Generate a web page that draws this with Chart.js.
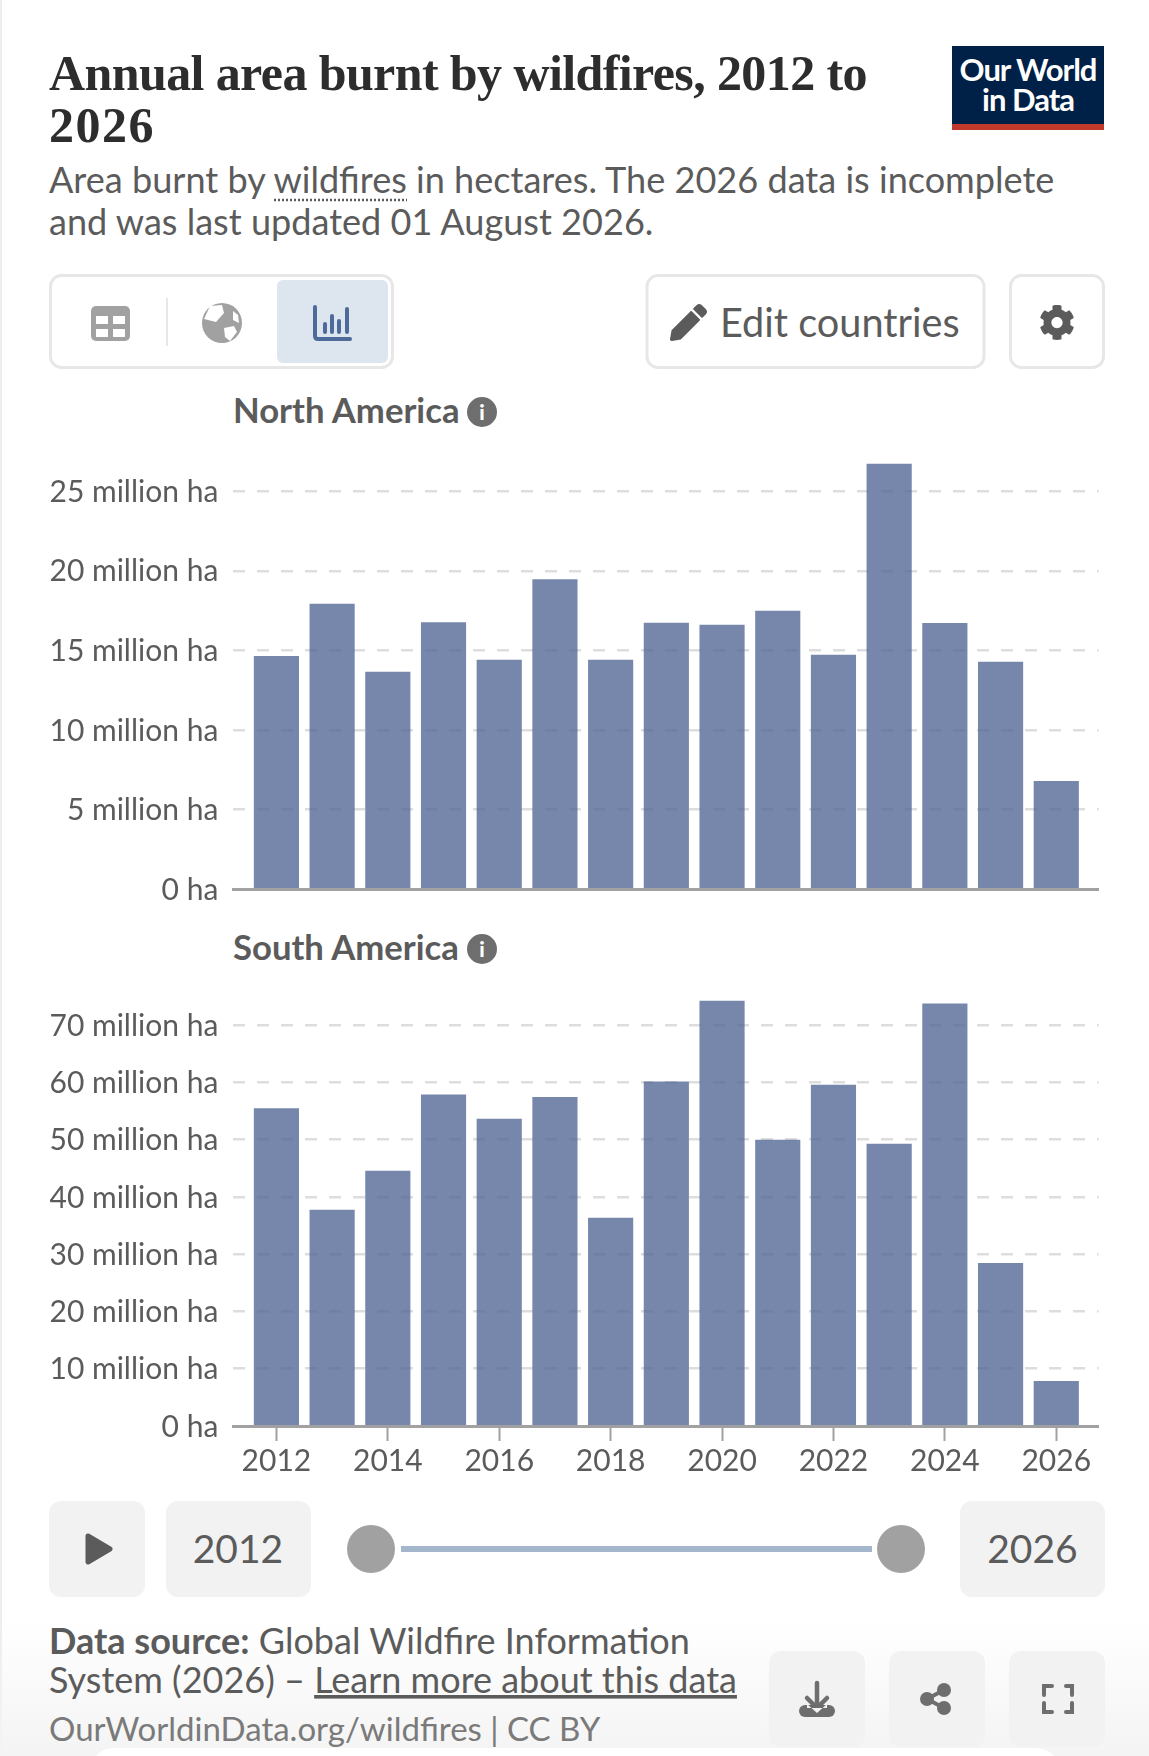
<!DOCTYPE html>
<html>
<head>
<meta charset="utf-8">
<title>Annual area burnt by wildfires</title>
<script src="https://cdn.jsdelivr.net/npm/chart.js@4"></script>
<style>
  html, body { margin: 0; padding: 0; background: #fff; }
  #page { position: relative; width: 1149px; height: 1756px; overflow: hidden; border-left: 0; }
  #chrome { position: absolute; left: 0; top: 0; }
  canvas { position: absolute; left: 0; }
  #northChart { top: 440px; }
  #southChart { top: 985px; }
  text { font-family: Lato, sans-serif; fill: #5b5b5b; }
  .title { font-family: "Liberation Serif", serif; font-weight: 700; font-size: 50px; fill: #2d2d2d; letter-spacing: -0.6px; }
  .sub { font-size: 36.1px; }
  .facet { font-size: 34.7px; font-weight: 700; }
  .btn { font-size: 39.7px; }
  .foot { font-size: 36px; }
  .url { font-size: 33px; fill: #7a7a7a; }
  .logo { font-size: 31px; font-weight: 700; fill: #fff; letter-spacing: -1px; }
  .box { fill: #fff; stroke: #e7e7e7; stroke-width: 3; }
  .grey { fill: #f2f2f2; }
</style>
</head>
<body>
<div id="page">
  <svg id="chrome" width="1149" height="1756" xmlns="http://www.w3.org/2000/svg">
    <defs>
      <linearGradient id="fade" x1="0" y1="0" x2="0" y2="1">
        <stop offset="0" stop-color="#f4f4f4" stop-opacity="0"/>
        <stop offset="1" stop-color="#f4f4f4"/>
      </linearGradient>
    </defs>
    <rect x="0" y="0" width="2" height="1756" fill="#eeeeee"/>
    <rect x="0" y="1620" width="1149" height="136" fill="url(#fade)"/>
    <rect x="90" y="1748" width="970" height="60" rx="24" fill="#fff"/>

    <!-- header -->
    <text class="title" x="49" y="90" id="title1">Annual area burnt by wildfires, 2012 to</text>
    <text class="title" x="49" y="142" style="letter-spacing:1.5px">2026</text>
    <rect x="952" y="46" width="152" height="84" fill="#002147"/>
    <rect x="952" y="124" width="152" height="6" fill="#c0392b"/>
    <text class="logo" x="1028" y="81" text-anchor="middle">Our World</text>
    <text class="logo" x="1028" y="111" text-anchor="middle">in Data</text>
    <text class="sub" x="49" y="193">Area burnt by wildfires in hectares. The 2026 data is incomplete</text>
    <text class="sub" x="49" y="235">and was last updated 01 August 2026.</text>
    <line x1="274" y1="200" x2="407" y2="200" stroke="#5b5b5b" stroke-width="2.500" stroke-dasharray="2 2"/>

    <!-- tabs -->
    <rect class="box" x="50.5" y="275.5" width="342" height="92" rx="11"/>
    <rect x="277" y="280" width="111" height="83" rx="6" fill="#dde5ef"/>
    <line x1="167" y1="298" x2="167" y2="346" stroke="#e7e7e7" stroke-width="2"/>
    <rect x="91" y="306" width="39" height="35" rx="5" fill="#a1a1a1"/>
    <g fill="#fff">
      <rect x="96" y="316" width="12" height="8"/><rect x="113" y="316" width="12" height="8"/>
      <rect x="96" y="329" width="12" height="8"/><rect x="113" y="329" width="12" height="8"/>
    </g>
    <circle cx="222" cy="323" r="20" fill="#a1a1a1"/>
    <path d="M210 306 l12 -1 l2 8 l-8 9 l-12 -3 z M224 328 l10 -2 l3 6 l-7 9 l-5 -4 z M233 311 l5 4 l1 8 l-6 -3 z" fill="#fff"/>
    <g fill="none" stroke="#4e6a9a" stroke-width="4" stroke-linecap="round">
      <path d="M315 307 V336 Q315 339 318 339 H350"/>
      <path d="M325 324 V332 M332 316 V332 M339 321 V332 M347 309 V332"/>
    </g>
    <rect class="box" x="647" y="275.5" width="337" height="92" rx="11"/>
    <svg x="670" y="304" width="37" height="37" viewBox="0 0 512 512">
      <path fill="#5b5b5b" d="M497.9 142.1l-46.1 46.1c-4.7 4.7-12.3 4.7-17 0l-111-111c-4.7-4.7-4.7-12.3 0-17l46.1-46.1c18.7-18.7 49.1-18.7 67.9 0l60.1 60.1c18.8 18.7 18.8 49.1 0 67.9zM284.2 99.8L21.6 362.4.4 483.9c-2.9 16.4 11.4 30.6 27.8 27.8l121.5-21.3 262.6-262.6c4.7-4.7 4.7-12.3 0-17l-111-111c-4.8-4.7-12.4-4.7-17.1 0z"/>
    </svg>
    <text class="btn" x="720" y="337">Edit countries</text>
    <rect class="box" x="1010.5" y="275.5" width="93" height="92" rx="11"/>
    <svg x="1039" y="304" width="36" height="37" viewBox="0 0 512 512">
      <path fill="#5b5b5b" d="M487.4 315.7l-42.6-24.6c4.3-23.2 4.3-47 0-70.2l42.6-24.6c4.9-2.8 7.1-8.6 5.5-14-11.1-35.6-30-67.8-54.7-94.6-3.8-4.1-10-5.1-14.8-2.3L380.8 110c-17.9-15.4-38.5-27.3-60.8-35.1V25.8c0-5.6-3.9-10.5-9.4-11.7-36.7-8.2-74.3-7.8-109.2 0-5.5 1.2-9.4 6.1-9.4 11.7V75c-22.2 7.9-42.8 19.8-60.8 35.1L88.7 85.5c-4.9-2.8-11-1.9-14.8 2.3-24.7 26.7-43.6 58.9-54.7 94.6-1.7 5.4.6 11.2 5.5 14L67.3 221c-4.3 23.2-4.3 47 0 70.2l-42.6 24.6c-4.9 2.8-7.1 8.6-5.5 14 11.1 35.6 30 67.8 54.7 94.6 3.8 4.1 10 5.1 14.8 2.3l42.6-24.6c17.9 15.4 38.5 27.3 60.8 35.1v49.2c0 5.6 3.9 10.5 9.4 11.7 36.7 8.2 74.3 7.8 109.2 0 5.5-1.2 9.4-6.1 9.4-11.7v-49.2c22.2-7.9 42.8-19.8 60.8-35.1l42.6 24.6c4.9 2.8 11 1.9 14.8-2.3 24.7-26.7 43.6-58.9 54.7-94.6 1.5-5.5-.7-11.3-5.6-14.1zM256 336c-44.1 0-80-35.9-80-80s35.9-80 80-80 80 35.9 80 80-35.9 80-80 80z"/>
    </svg>

    <!-- facet titles -->
    <text class="facet" x="233" y="423">North America</text>
    <circle cx="482" cy="412" r="15" fill="#6e6e6e"/>
    <text x="482" y="420" text-anchor="middle" style="font-size:21px;font-weight:900;fill:#fff">i</text>
    <text class="facet" x="233" y="960">South America</text>
    <circle cx="482" cy="949" r="15" fill="#6e6e6e"/>
    <text x="482" y="957" text-anchor="middle" style="font-size:21px;font-weight:900;fill:#fff">i</text>

    <!-- timeline -->
    <rect class="grey" x="49" y="1501" width="96" height="96" rx="12"/>
    <path d="M88 1536 L110 1549 L88 1562 Z" fill="#5b5b5b" stroke="#5b5b5b" stroke-width="5" stroke-linejoin="round"/>
    <rect class="grey" x="166" y="1501" width="145" height="96" rx="12"/>
    <text x="238" y="1563" text-anchor="middle" style="font-size:39px">2012</text>
    <rect x="401" y="1546" width="471" height="6" fill="#a4b6cc"/>
    <circle cx="371" cy="1549" r="24" fill="#a1a1a1"/>
    <circle cx="901" cy="1549" r="24" fill="#a1a1a1"/>
    <rect class="grey" x="960" y="1501" width="145" height="96" rx="12"/>
    <text x="1032.500" y="1563" text-anchor="middle" style="font-size:39px">2026</text>

    <!-- footer -->
    <text class="foot" x="49" y="1654"><tspan font-weight="700">Data source:</tspan> Global Wildfire Information</text>
    <text class="foot" x="49" y="1693">System (2026) – <tspan text-decoration="underline">Learn more about this data</tspan></text>
    <text class="url" x="49" y="1741">OurWorldinData.org/wildfires | CC BY</text>
    <rect class="grey" x="769" y="1651" width="96" height="96" rx="12"/>
    <rect class="grey" x="889" y="1651" width="96" height="96" rx="12"/>
    <rect class="grey" x="1009" y="1651" width="96" height="96" rx="12"/>
    <g fill="#6e6e6e">
      <rect x="799" y="1705" width="36" height="12" rx="6"/>
      <path d="M817 1683 V1706 M807 1698 L817 1708 L827 1698" fill="none" stroke="#6e6e6e" stroke-width="4.500" stroke-linecap="round"/>
      <path d="M807 1704 L817 1713 L827 1704 L827 1708 L807 1708 Z" fill="#f2f2f2"/>
      <circle cx="927" cy="1699" r="7"/><circle cx="944" cy="1690" r="7"/><circle cx="944" cy="1708" r="7"/>
      <path d="M927 1699 L944 1690 M927 1699 L944 1708" stroke="#6e6e6e" stroke-width="4"/>
    </g>
    <path d="M1044 1695 V1686 H1052 M1066 1686 H1072 V1695 M1044 1703 V1712 H1052 M1066 1712 H1072 V1703" fill="none" stroke="#6e6e6e" stroke-width="4" stroke-linecap="round"/>
  </svg>
  <canvas id="northChart" width="1149" height="470"></canvas>
  <canvas id="southChart" width="1149" height="501"></canvas>
</div>

<script>
// values in million hectares
const years = [2012, 2013, 2014, 2015, 2016, 2017, 2018, 2019, 2020, 2021, 2022, 2023, 2024, 2025, 2026];
const northAmerica = [14.63, 17.9, 13.63, 16.75, 14.38, 19.45, 14.38, 16.71, 16.58, 17.46, 14.7, 26.7, 16.69, 14.26, 6.77];
const southAmerica = [55.4, 37.7, 44.5, 57.8, 53.6, 57.4, 36.3, 60.1, 74.2, 49.9, 59.5, 49.2, 73.7, 28.4, 7.8];
const northTicks = [0, 5, 10, 15, 20, 25];
const southTicks = [0, 10, 20, 30, 40, 50, 60, 70];
const yearTicks = [2012, 2014, 2016, 2018, 2020, 2022, 2024, 2026];

const barColor = 'rgba(84, 105, 150, 0.8)';
const textColor = '#5b5b5b';
const labelFont = { family: 'Lato', size: 30 };

// stop the tick labels from pushing the plot area inwards
function noOverhang(scale) {
    scale.paddingTop = 0;
    scale.paddingBottom = 0;
    scale.paddingLeft = 0;
    scale.paddingRight = 0;
}

function makeChart(id, values, yTicks, yMax, padTop, showYears) {
    const ctx = document.getElementById(id).getContext('2d');
    return new Chart(ctx, {
        type: 'bar',
        data: {
            datasets: [{
                data: years.map((year, i) => ({ x: year, y: values[i] })),
                backgroundColor: barColor,
                barThickness: 44.5
            }]
        },
        options: {
            responsive: false,
            animation: false,
            devicePixelRatio: 1,
            layout: { padding: { top: padTop, right: 50.4 } },
            plugins: { legend: { display: false }, tooltip: { enabled: false } },
            scales: {
                x: {
                    type: 'linear',
                    offset: false,
                    min: 2011.226,
                    max: 2026.76,
                    afterBuildTicks: scale => { scale.ticks = yearTicks.map(v => ({ value: v })); },
                    afterFit: scale => { scale.height = showYears ? 60 : 21; noOverhang(scale); },
                    border: { color: '#a1a1a1', width: 3 },
                    grid: {
                        offset: false,
                        drawOnChartArea: false,
                        drawTicks: showYears,
                        tickLength: 15,
                        tickWidth: 2,
                        tickColor: '#a1a1a1'
                    },
                    ticks: {
                        display: showYears,
                        autoSkip: false,
                        maxRotation: 0,
                        padding: 2,
                        color: textColor,
                        font: labelFont,
                        callback: v => String(v)
                    }
                },
                y: {
                    min: 0,
                    max: yMax,
                    afterBuildTicks: scale => { scale.ticks = yTicks.map(v => ({ value: v })); },
                    afterFit: scale => { scale.width = 233.3; noOverhang(scale); },
                    border: { display: false, dash: [12, 12] },
                    grid: {
                        drawTicks: false,
                        lineWidth: 2.5,
                        color: c => (c.tick && c.tick.value === 0) ? 'rgba(0,0,0,0)' : '#dddddd'
                    },
                    ticks: {
                        padding: 15,
                        labelOffset: 1,
                        color: textColor,
                        font: labelFont,
                        callback: v => (v === 0 ? '0 ha' : v + ' million ha')
                    }
                }
            }
        }
    });
}

makeChart('northChart', northAmerica, northTicks, 27, 19.4, false);
makeChart('southChart', southAmerica, southTicks, 75, 11.4, true);
</script>
</body>
</html>
